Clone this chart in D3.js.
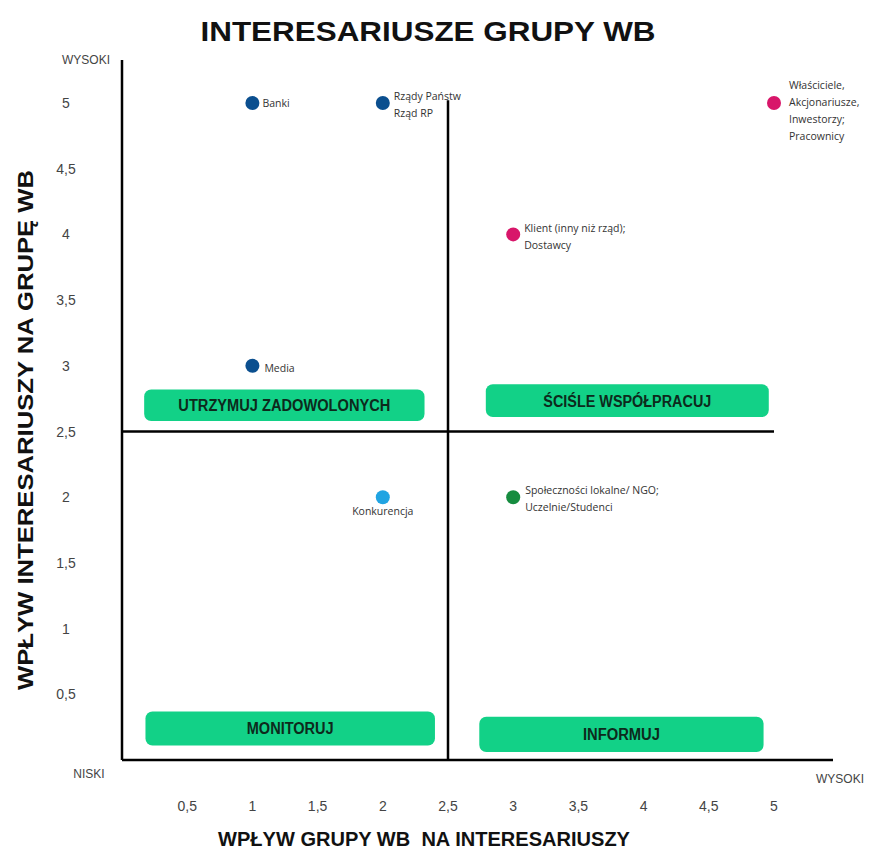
<!DOCTYPE html>
<html>
<head>
<meta charset="utf-8">
<script src="https://cdn.jsdelivr.net/npm/d3@7"></script>
<style>
    body { margin: 0; background: #fff; }
</style>
</head>
<body>
<div class="stakeholder-chart"></div>
<script>
// ticks shown on both axes
const tickValues = [0.5, 1, 1.5, 2, 2.5, 3, 3.5, 4, 4.5, 5];
const tickLabels = ["0,5", "1", "1,5", "2", "2,5", "3", "3,5", "4", "4,5", "5"];

// stakeholders: x = wpływ grupy WB na interesariuszy, y = wpływ interesariuszy na grupę WB
const stakeholderNames = [
    ["Banki"],
    ["Rządy Państw", "Rząd RP"],
    ["Media"],
    ["Klient (inny niż rząd);", "Dostawcy"],
    ["Właściciele,", "Akcjonariusze,", "Inwestorzy;", "Pracownicy"],
    ["Konkurencja"],
    ["Społeczności lokalne/ NGO;", "Uczelnie/Studenci"]
];
const influenceOnStakeholders = [1, 2, 1, 3, 5, 2, 3];
const influenceOnGroup = [5, 5, 3, 4, 5, 2, 2];
const stakeholderGroup = ["blue", "blue", "blue", "pink", "pink", "light", "green"];

const quadrantLabels = ["UTRZYMUJ ZADOWOLONYCH", "ŚCIŚLE WSPÓŁPRACUJ", "MONITORUJ", "INFORMUJ"];

const colors = {blue: "#0b4f8f", pink: "#d8166a", light: "#21a4e2", green: "#168c3f"};

const width = 873;
const height = 849;

const svg = d3.select(".stakeholder-chart")
    .append("svg")
    .attr("width", width)
    .attr("height", height);

svg.append("rect")
    .attr("width", "100%")
    .attr("height", "100%")
    .attr("fill", "#fff");

const x = d3.scaleLinear()
    .domain([0, 5])
    .range([122, 774]);

const y = d3.scaleLinear()
    .domain([0, 5])
    .range([760, 103]);

// title
svg.append("text")
    .attr("x", 428)
    .attr("y", 41)
    .attr("text-anchor", "middle")
    .attr("textLength", 455)
    .attr("lengthAdjust", "spacingAndGlyphs")
    .style("font-family", "'Liberation Sans', Arial, sans-serif")
    .style("font-weight", "bold")
    .style("font-size", "28px")
    .attr("fill", "#111")
    .text("INTERESARIUSZE GRUPY WB");

// quadrant boxes (drawn under the lines)
const boxes = [
    {x0: 0.17, x1: 2.32, y0: 2.82, y1: 2.58, w: 212},
    {x0: 2.79, x1: 4.96, y0: 2.86, y1: 2.61, w: 168},
    {x0: 0.18, x1: 2.40, y0: 0.37, y1: 0.11, w: 87},
    {x0: 2.74, x1: 4.92, y0: 0.33, y1: 0.06, w: 77}
];

const boxG = svg.append("g");
boxes.forEach((b, i) => {
    boxG.append("rect")
        .attr("x", x(b.x0))
        .attr("y", y(b.y0))
        .attr("width", x(b.x1) - x(b.x0))
        .attr("height", y(b.y1) - y(b.y0))
        .attr("rx", 7)
        .attr("fill", "#12d187");
    boxG.append("text")
        .attr("x", (x(b.x0) + x(b.x1)) / 2)
        .attr("y", (y(b.y0) + y(b.y1)) / 2 + 6)
        .attr("text-anchor", "middle")
        .attr("textLength", b.w)
        .attr("lengthAdjust", "spacingAndGlyphs")
        .style("font-family", "'Liberation Sans', Arial, sans-serif")
        .style("font-weight", "bold")
        .style("font-size", "16px")
        .attr("fill", "#0d2a1c")
        .text(quadrantLabels[i]);
});

// axes and quadrant dividers
const lines = svg.append("g")
    .attr("stroke", "#000")
    .attr("fill", "none");

lines.append("line")  // y axis
    .attr("x1", x(0)).attr("x2", x(0))
    .attr("y1", 60).attr("y2", y(0))
    .attr("stroke-width", 2.5);

lines.append("line")  // x axis
    .attr("x1", x(0)).attr("x2", 833)
    .attr("y1", y(0)).attr("y2", y(0))
    .attr("stroke-width", 2.5);

lines.append("line")
    .attr("x1", x(0)).attr("x2", x(5))
    .attr("y1", y(2.5)).attr("y2", y(2.5))
    .attr("stroke-width", 2.5);

lines.append("line")
    .attr("x1", x(2.5)).attr("x2", x(2.5))
    .attr("y1", y(5.02)).attr("y2", y(0))
    .attr("stroke-width", 2.5);

// tick labels, no tick marks
const tickFont = "'Liberation Sans', Arial, sans-serif";

svg.append("g")
    .selectAll("text")
    .data(tickValues)
    .enter()
    .append("text")
    .attr("x", 66)
    .attr("y", d => y(d) + 5)
    .attr("text-anchor", "middle")
    .style("font-family", tickFont)
    .style("font-size", "14px")
    .attr("fill", "#444")
    .text((d, i) => tickLabels[i]);

svg.append("g")
    .selectAll("text")
    .data(tickValues)
    .enter()
    .append("text")
    .attr("x", d => x(d))
    .attr("y", 811)
    .attr("text-anchor", "middle")
    .style("font-family", tickFont)
    .style("font-size", "14px")
    .attr("fill", "#444")
    .text((d, i) => tickLabels[i]);

// low / high markers
const markers = [
    {t: "WYSOKI", x: 86, y: 64},
    {t: "NISKI", x: 89, y: 778},
    {t: "WYSOKI", x: 840, y: 783}
];
svg.append("g")
    .selectAll("text")
    .data(markers)
    .enter()
    .append("text")
    .attr("x", d => d.x)
    .attr("y", d => d.y)
    .attr("text-anchor", "middle")
    .style("font-family", tickFont)
    .style("font-size", "12px")
    .attr("fill", "#444")
    .text(d => d.t);

// axis titles
svg.append("text")
    .attr("transform", "translate(33, 430) rotate(-90)")
    .attr("text-anchor", "middle")
    .attr("textLength", 520)
    .attr("lengthAdjust", "spacingAndGlyphs")
    .style("font-family", "'Liberation Sans', Arial, sans-serif")
    .style("font-weight", "bold")
    .style("font-size", "22px")
    .attr("fill", "#111")
    .text("WPŁYW INTERESARIUSZY NA GRUPĘ WB");

svg.append("text")
    .attr("x", 424)
    .attr("y", 846)
    .attr("text-anchor", "middle")
    .attr("textLength", 412)
    .attr("lengthAdjust", "spacingAndGlyphs")
    .style("font-family", "'Liberation Sans', Arial, sans-serif")
    .style("font-weight", "bold")
    .style("font-size", "21px")
    .attr("fill", "#111")
    .attr("xml:space", "preserve")
    .text("WPŁYW GRUPY WB  NA INTERESARIUSZY");

// points
const points = stakeholderNames.map((n, i) => ({
    lines: n,
    vx: influenceOnStakeholders[i],
    vy: influenceOnGroup[i],
    group: stakeholderGroup[i]
}));

// label placement relative to each dot
const labelPlace = [
    {dx: 10, dy: 4},
    {dx: 11, dy: -3},
    {dx: 12, dy: 6},
    {dx: 11, dy: -2},
    {dx: 15, dy: -14},
    {dx: 0, dy: 18, anchor: "middle"},
    {dx: 12, dy: -3}
];

const pointG = svg.append("g");

pointG.selectAll("circle")
    .data(points)
    .enter()
    .append("circle")
    .attr("cx", d => x(d.vx))
    .attr("cy", d => y(d.vy))
    .attr("r", 7)
    .attr("fill", d => colors[d.group]);

points.forEach((p, i) => {
    const pl = labelPlace[i];
    const t = pointG.append("text")
        .attr("x", x(p.vx) + pl.dx)
        .attr("y", y(p.vy) + pl.dy)
        .attr("text-anchor", pl.anchor || "start")
        .style("font-family", "'Open Sans', 'Noto Sans', sans-serif")
        .style("font-size", "10.5px")
        .attr("fill", "#333");
    p.lines.forEach((line, j) => {
        t.append("tspan")
            .attr("x", x(p.vx) + pl.dx)
            .attr("dy", j === 0 ? 0 : 17)
            .text(line);
    });
});
</script>
</body>
</html>
